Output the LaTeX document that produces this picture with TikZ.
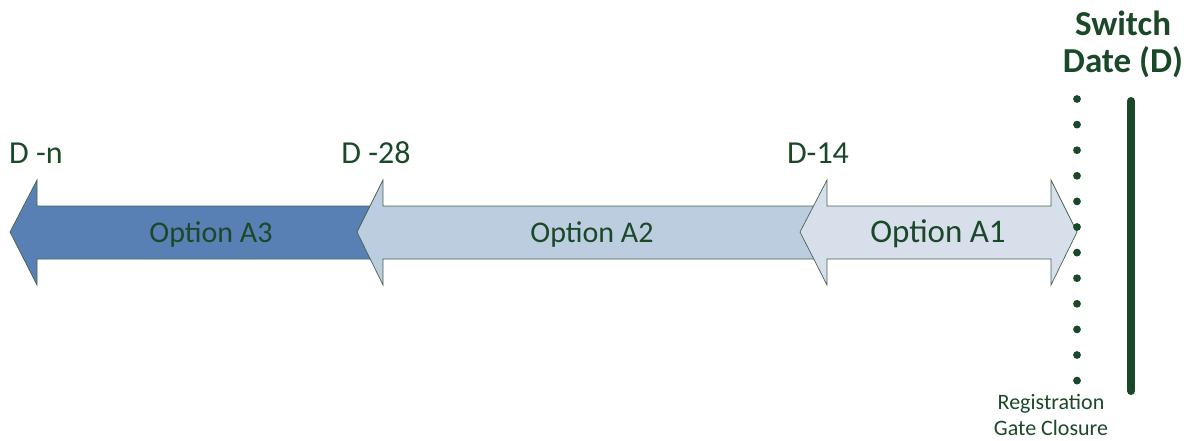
\documentclass[tikz,border=0pt]{standalone}
\usepackage{fontspec}
\setmainfont{Carlito}
\definecolor{dkgreen}{RGB}{26,72,40}
\definecolor{edgegreen}{RGB}{70,100,80}
\definecolor{optthree}{RGB}{88,128,180}
\definecolor{opttwo}{RGB}{188,205,224}
\definecolor{optone}{RGB}{214,223,234}
\tikzset{
  optarrow/.style={draw=edgegreen,line width=0.7pt,line join=miter},
  optlabel/.style={text=dkgreen,anchor=base,inner sep=0pt,font=\fontsize{30}{36}\selectfont},
  daylabel/.style={text=dkgreen,anchor=base,inner sep=0pt,font=\fontsize{32}{38}\selectfont}
}

\begin{document}
\begin{tikzpicture}[x=1pt,y=-1pt]
\useasboundingbox (0,0) rectangle (1193,440);

% Option A3
\filldraw[optarrow,fill=optthree] (10,232) -- (37,180) -- (37,206) -- (380,206) -- (380,259) -- (37,259) -- (37,285) -- cycle;
% Option A2
\filldraw[optarrow,fill=opttwo] (357,232) -- (383,180) -- (383,206) -- (815,206) -- (815,259) -- (383,259) -- (383,285) -- cycle;
% Option A1
\filldraw[optarrow,fill=optone] (800,232) -- (827,180) -- (827,206) -- (1051,206) -- (1051,180) -- (1077,232) -- (1051,285) -- (1051,259) -- (827,259) -- (827,285) -- cycle;

\node[optlabel] (a3) at (211,242) {Option A3};
\node[optlabel] (a2) at (592,242) {Option A2};
\node[optlabel,font=\fontsize{33}{40}\selectfont] (a1) at (938,242) {Option A1};

\node[daylabel] (dn) at (36,163) {D -n};
\node[daylabel] (d28) at (376,163) {D -28};
\node[daylabel] (d14) at (818,163) {D-14};

% gate closure dots
\foreach \y in {0,...,11}
  \fill[dkgreen] (1077,99+25.6*\y) circle [radius=3.9];
\node[text=dkgreen,anchor=north,inner sep=0pt,align=center,font=\fontsize{22}{26}\selectfont] (gate) at (1051,394) {Registration\\Gate Closure};

% switch date
\coordinate (dtop) at (1131,101);
\coordinate (dbot) at (1131,391);
\draw[dkgreen,line width=8pt,line cap=round] (dtop) -- (dbot);
\node[text=dkgreen,anchor=north,inner sep=0pt,align=center,font=\bfseries\fontsize{35}{37}\selectfont] (sw) at (1123,11) {Switch\\Date (D)};
\end{tikzpicture}
\end{document}
